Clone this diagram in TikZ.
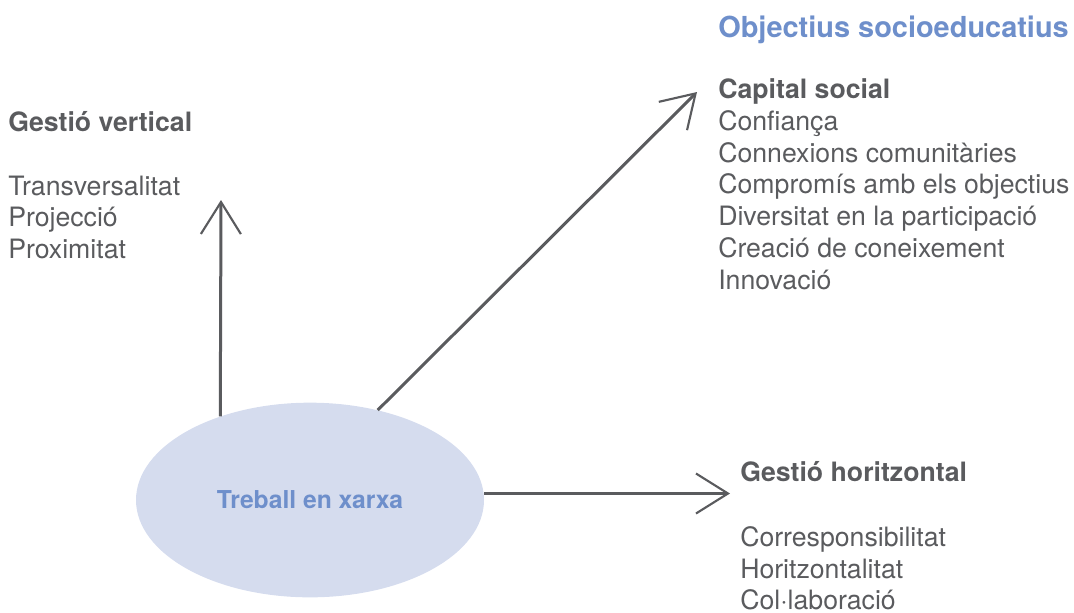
\documentclass[tikz,border=0pt]{standalone}
\usepackage{fontspec}
\setmainfont{TeX Gyre Heros}
\usetikzlibrary{arrows.meta, shapes.geometric, positioning}
\definecolor{txtgray}{HTML}{5A5B5E}
\definecolor{xblue}{HTML}{6E8FCB}
\definecolor{xfill}{HTML}{D5DCEE}

\begin{document}
\begin{tikzpicture}[
    x=0.75pt, y=-0.75pt,
    >={Straight Barb[length=24pt, width=30pt, line width=1.6pt]},
    net/.style={ellipse, fill=xfill, minimum width=261pt, minimum height=146pt, inner sep=0pt, text=xblue, font=\fontsize{18.5}{22}\selectfont\bfseries},
    goal/.style={anchor=base west, inner sep=0pt, text=xblue, font=\fontsize{21.7}{26}\selectfont\bfseries},
    head/.style={anchor=base west, inner sep=0pt, text=txtgray, font=\fontsize{20}{24}\selectfont\bfseries},
    item/.style={anchor=base west, inner sep=0pt, text=txtgray, font=\fontsize{20}{24}\selectfont},
    link/.style={->, draw=txtgray, line width=2.25pt}
]
\useasboundingbox (0,0) rectangle (1074,612);

% Central node
\node (net) [net] at (310, 500) {Treball en xarxa};

% Arrow ends
\coordinate (vtip) at (221, 200);
\coordinate (dtip) at (697, 92);
\coordinate (htip) at (730, 493.5);

\draw[link] (net.137) -- (vtip);
\draw[link] (net.53) -- (dtip);
\draw[link] (net.east |- htip) -- (htip);

% Vertical management
\node (vhead) [head] at (8, 131.7) {Gestió vertical};
\node (v1) [item] at (8, 195) {Transversalitat};
\node (v2) [item] at (8, 226.7) {Projecció};
\node (v3) [item] at (8, 258.3) {Proximitat};

% Socio-educational goals
\node (goal) [goal] at (718, 37) {Objectius socioeducatius};
\node (chead) [head] at (718, 98.5) {Capital social};
\node (c1) [item] at (718, 130.3) {Confiança};
\node (c2) [item] at (718, 162.1) {Connexions comunitàries};
\node (c3) [item] at (718, 193.9) {Compromís amb els objectius};
\node (c4) [item] at (718, 225.7) {Diversitat en la participació};
\node (c5) [item] at (718, 257.5) {Creació de coneixement};
\node (c6) [item] at (718, 289.3) {Innovació};

% Horizontal management
\node (hhead) [head] at (740, 481.7) {Gestió horitzontal};
\node (h1) [item] at (740, 546.7) {Corresponsibilitat};
\node (h2) [item] at (740, 578.3) {Horitzontalitat};
\node (h3) [item] at (740, 609.5) {Col·laboració};

\end{tikzpicture}
\end{document}
